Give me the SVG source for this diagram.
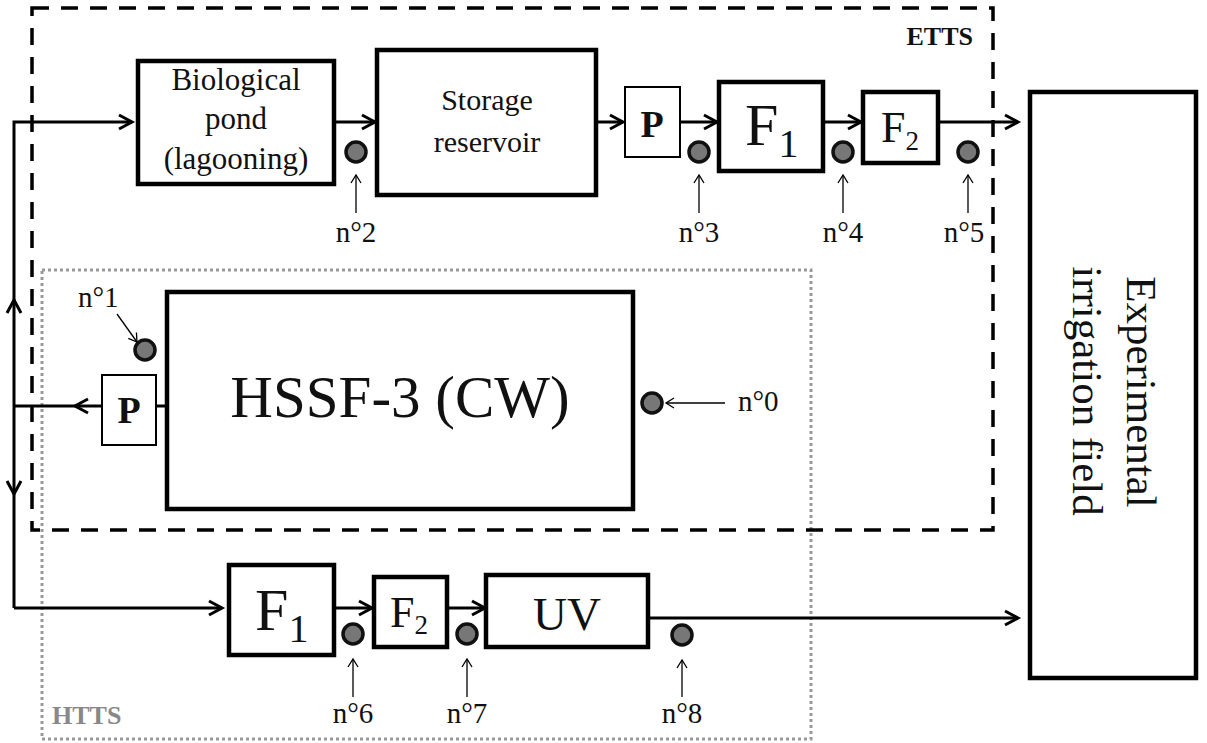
<svg xmlns="http://www.w3.org/2000/svg" width="1207" height="743" viewBox="0 0 1207 743">
<style>
  text { font-family: "Liberation Serif", "Times New Roman", serif; fill: #111; }
  .box { fill: #fff; stroke: #000; stroke-width: 4.5; }
  .pbox { fill: #fff; stroke: #000; stroke-width: 2; }
  .flow { fill: none; stroke: #000; stroke-width: 3; }
  .chev { fill: none; stroke: #000; stroke-width: 3; }
  .thin { fill: none; stroke: #000; stroke-width: 1.3; }
  .pt { fill: #777; stroke: #111; stroke-width: 3.5; }
  .lbl { font-size: 29px; text-anchor: middle; }
  .mid { text-anchor: middle; }
</style>
<defs>
  <marker id="ah" markerUnits="userSpaceOnUse" markerWidth="16" markerHeight="18" refX="13" refY="8" orient="auto" overflow="visible">
    <path d="M0,1 L13,8 L0,15" fill="none" stroke="#000" stroke-width="3"/>
  </marker>
  <marker id="ahs" markerUnits="userSpaceOnUse" markerWidth="10" markerHeight="12" refX="8" refY="5" orient="auto" overflow="visible">
    <path d="M0,0 L8,5 L0,10" fill="none" stroke="#000" stroke-width="1.3"/>
  </marker>
</defs>

<!-- system boundaries -->
<g id="htts">
  <rect x="42" y="270" width="769" height="469" fill="none" stroke="#999" stroke-width="3" stroke-dasharray="3 3"/>
  <text x="52" y="724" font-size="26" font-weight="bold" style="fill:#888">HTTS</text>
</g>
<g id="etts">
  <rect x="32" y="8" width="961" height="522" fill="none" stroke="#000" stroke-width="3.5" stroke-dasharray="17 12"/>
  <text x="973" y="45" font-size="26" font-weight="bold" text-anchor="end">ETTS</text>
</g>

<!-- connectors -->
<g id="connectors">
  <path class="flow" d="M14,608 L14,122 L132,122" marker-end="url(#ah)"/>
  <path class="chev" d="M7,313 L14,300 L21,313"/>
  <path class="chev" d="M7,481 L14,494 L21,481"/>
  <line class="flow" x1="156" y1="406" x2="167" y2="406"/>
  <line class="flow" x1="102" y1="406" x2="14" y2="406"/>
  <path class="chev" d="M88,399 L75,406 L88,413"/>
  <line class="flow" x1="334" y1="122" x2="375" y2="122" marker-end="url(#ah)"/>
  <line class="flow" x1="596" y1="122" x2="623" y2="122" marker-end="url(#ah)"/>
  <line class="flow" x1="680" y1="122" x2="717" y2="122" marker-end="url(#ah)"/>
  <line class="flow" x1="823" y1="122" x2="861" y2="122" marker-end="url(#ah)"/>
  <line class="flow" x1="938" y1="122" x2="1018" y2="122" marker-end="url(#ah)"/>
  <line class="flow" x1="14" y1="608" x2="222" y2="608" marker-end="url(#ah)"/>
  <line class="flow" x1="334" y1="608" x2="372" y2="608" marker-end="url(#ah)"/>
  <line class="flow" x1="447" y1="608" x2="485" y2="608" marker-end="url(#ah)"/>
  <line class="flow" x1="648" y1="618" x2="1018" y2="618" marker-end="url(#ah)"/>
</g>

<!-- nodes -->
<g id="bio-pond">
  <rect class="box" x="138" y="61" width="196" height="123"/>
  <text class="mid" x="236" y="90" font-size="31">Biological</text>
  <text class="mid" x="236" y="129" font-size="31">pond</text>
  <text class="mid" x="236" y="169" font-size="31">(lagooning)</text>
</g>
<g id="storage">
  <rect class="box" x="377" y="50" width="219" height="145"/>
  <text class="mid" x="487" y="110" font-size="30">Storage</text>
  <text class="mid" x="487" y="152" font-size="30">reservoir</text>
</g>
<g id="pump-top">
  <rect class="pbox" x="625" y="87" width="55" height="70"/>
  <text class="mid" x="652" y="137" font-size="38" font-weight="bold">P</text>
</g>
<g id="f1-top">
  <rect class="box" x="719" y="82" width="104" height="89"/>
  <text x="745" y="145" font-size="60">F<tspan font-size="40" dy="12">1</tspan></text>
</g>
<g id="f2-top">
  <rect class="box" x="863" y="92" width="75" height="71"/>
  <text x="881" y="142" font-size="44">F<tspan font-size="27" dy="8">2</tspan></text>
</g>
<g id="field">
  <rect class="box" x="1030" y="92" width="166" height="586"/>
  <text class="mid" transform="translate(1127,392) rotate(90)" font-size="43">Experimental</text>
  <text class="mid" transform="translate(1073,391) rotate(90)" font-size="43">irrigation field</text>
</g>
<g id="hssf">
  <rect class="box" x="167" y="292" width="466" height="217"/>
  <text class="mid" x="400" y="417" font-size="59">HSSF-3 (CW)</text>
</g>
<g id="pump-left">
  <rect class="pbox" x="102" y="375" width="54" height="70"/>
  <text class="mid" x="129" y="423" font-size="38" font-weight="bold">P</text>
</g>
<g id="f1-bottom">
  <rect class="box" x="229" y="565" width="105" height="90"/>
  <text x="255" y="630" font-size="60">F<tspan font-size="40" dy="12">1</tspan></text>
</g>
<g id="f2-bottom">
  <rect class="box" x="374" y="577" width="73" height="70"/>
  <text x="390" y="627" font-size="44">F<tspan font-size="27" dy="7">2</tspan></text>
</g>
<g id="uv">
  <rect class="box" x="486" y="575" width="162" height="72"/>
  <text class="mid" x="567" y="630" font-size="47">UV</text>
</g>

<!-- sampling points -->
<g id="sp0">
  <circle class="pt" cx="652" cy="403" r="10"/>
  <line class="thin" x1="725" y1="403" x2="666" y2="403" marker-end="url(#ahs)"/>
  <text x="738" y="411" font-size="29">n°0</text>
</g>
<g id="sp1">
  <circle class="pt" cx="145" cy="350" r="10"/>
  <line class="thin" x1="117" y1="314" x2="137" y2="342" marker-end="url(#ahs)"/>
  <text x="78" y="307" font-size="29">n°1</text>
</g>
<g id="sp2">
  <circle class="pt" cx="356" cy="152" r="10"/>
  <line class="thin" x1="356" y1="213" x2="356" y2="175" marker-end="url(#ahs)"/>
  <text class="lbl" x="356" y="242">n°2</text>
</g>
<g id="sp3">
  <circle class="pt" cx="699" cy="152" r="10"/>
  <line class="thin" x1="699" y1="213" x2="699" y2="175" marker-end="url(#ahs)"/>
  <text class="lbl" x="699" y="242">n°3</text>
</g>
<g id="sp4">
  <circle class="pt" cx="843" cy="152" r="10"/>
  <line class="thin" x1="843" y1="213" x2="843" y2="175" marker-end="url(#ahs)"/>
  <text class="lbl" x="843" y="242">n°4</text>
</g>
<g id="sp5">
  <circle class="pt" cx="968" cy="152" r="10"/>
  <line class="thin" x1="968" y1="213" x2="968" y2="175" marker-end="url(#ahs)"/>
  <text class="lbl" x="964" y="242">n°5</text>
</g>
<g id="sp6">
  <circle class="pt" cx="353" cy="634" r="10"/>
  <line class="thin" x1="353" y1="697" x2="353" y2="659" marker-end="url(#ahs)"/>
  <text class="lbl" x="353" y="723">n°6</text>
</g>
<g id="sp7">
  <circle class="pt" cx="467" cy="634" r="10"/>
  <line class="thin" x1="467" y1="697" x2="467" y2="659" marker-end="url(#ahs)"/>
  <text class="lbl" x="467" y="723">n°7</text>
</g>
<g id="sp8">
  <circle class="pt" cx="682" cy="635" r="10"/>
  <line class="thin" x1="682" y1="697" x2="682" y2="660" marker-end="url(#ahs)"/>
  <text class="lbl" x="682" y="723">n°8</text>
</g>
</svg>
